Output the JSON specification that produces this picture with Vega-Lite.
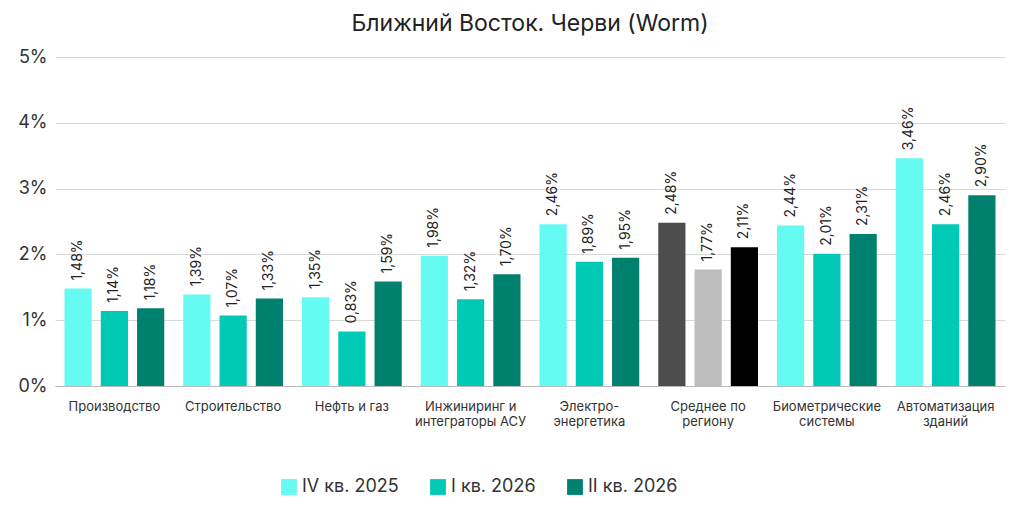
{
  "$schema": "https://vega.github.io/schema/vega-lite/v6.json",
  "width": 950,
  "height": 329,
  "autosize": "none",
  "padding": {"left": 55, "top": 57, "right": 19, "bottom": 126},
  "background": "white",
  "title": {"text": "Ближний Восток. Черви (Worm)", "fontSize": 23, "fontWeight": "normal", "font": "Inter", "color": "#222", "offset": 12},
  "data": {"values": [
    {"cat": "Производство", "s": "IV кв. 2025", "v": 1.48},
    {"cat": "Производство", "s": "I кв. 2026", "v": 1.14},
    {"cat": "Производство", "s": "II кв. 2026", "v": 1.18},
    {"cat": "Строительство", "s": "IV кв. 2025", "v": 1.39},
    {"cat": "Строительство", "s": "I кв. 2026", "v": 1.07},
    {"cat": "Строительство", "s": "II кв. 2026", "v": 1.33},
    {"cat": "Нефть и газ", "s": "IV кв. 2025", "v": 1.35},
    {"cat": "Нефть и газ", "s": "I кв. 2026", "v": 0.83},
    {"cat": "Нефть и газ", "s": "II кв. 2026", "v": 1.59},
    {"cat": "Инжиниринг и интеграторы АСУ", "s": "IV кв. 2025", "v": 1.98},
    {"cat": "Инжиниринг и интеграторы АСУ", "s": "I кв. 2026", "v": 1.32},
    {"cat": "Инжиниринг и интеграторы АСУ", "s": "II кв. 2026", "v": 1.70},
    {"cat": "Электро-энергетика", "s": "IV кв. 2025", "v": 2.46},
    {"cat": "Электро-энергетика", "s": "I кв. 2026", "v": 1.89},
    {"cat": "Электро-энергетика", "s": "II кв. 2026", "v": 1.95},
    {"cat": "Среднее по региону", "s": "IV кв. 2025", "v": 2.48},
    {"cat": "Среднее по региону", "s": "I кв. 2026", "v": 1.77},
    {"cat": "Среднее по региону", "s": "II кв. 2026", "v": 2.11},
    {"cat": "Биометрические системы", "s": "IV кв. 2025", "v": 2.44},
    {"cat": "Биометрические системы", "s": "I кв. 2026", "v": 2.01},
    {"cat": "Биометрические системы", "s": "II кв. 2026", "v": 2.31},
    {"cat": "Автоматизация зданий", "s": "IV кв. 2025", "v": 3.46},
    {"cat": "Автоматизация зданий", "s": "I кв. 2026", "v": 2.46},
    {"cat": "Автоматизация зданий", "s": "II кв. 2026", "v": 2.90}
  ]},
  "transform": [
    {"calculate": "datum.cat == 'Среднее по региону' ? 'ср. ' + datum.s : datum.s", "as": "key"},
    {"calculate": "replace(format(datum.v, '.2f'), '.', ',') + '%'", "as": "lbl"}
  ],
  "encoding": {
    "x": {"field": "cat", "type": "nominal", "sort": null, "title": null,
      "scale": {"paddingInner": 0.16, "paddingOuter": 0.08},
      "axis": {"labelAngle": 0, "labelFont": "Inter", "labelFontSize": 13, "labelColor": "#333", "domainColor": "#bbb", "ticks": false, "labelPadding": 14, "labelLimit": 200,
        "labelExpr": "datum.value == 'Инжиниринг и интеграторы АСУ' ? ['Инжиниринг и', 'интеграторы АСУ'] : datum.value == 'Электро-энергетика' ? ['Электро-', 'энергетика'] : datum.value == 'Среднее по региону' ? ['Среднее по', 'региону'] : datum.value == 'Биометрические системы' ? ['Биометрические', 'системы'] : datum.value == 'Автоматизация зданий' ? ['Автоматизация', 'зданий'] : datum.value"}},
    "xOffset": {"field": "s", "type": "nominal", "sort": ["IV кв. 2025", "I кв. 2026", "II кв. 2026"], "scale": {"paddingInner": 0.25}},
    "y": {"field": "v", "type": "quantitative", "title": null,
      "scale": {"domain": [0, 5]},
      "axis": {"values": [0, 1, 2, 3, 4, 5], "labelExpr": "datum.value + '%'", "labelFont": "Inter", "labelFontSize": 18, "labelColor": "#333", "domain": false, "ticks": false, "gridColor": "#d9d9d9", "labelPadding": 8}}
  },
  "layer": [
    {
      "mark": {"type": "bar"},
      "encoding": {
        "color": {"field": "key", "type": "nominal",
          "scale": {"domain": ["IV кв. 2025", "I кв. 2026", "II кв. 2026", "ср. IV кв. 2025", "ср. I кв. 2026", "ср. II кв. 2026"],
            "range": ["#66fbf2", "#00c9b6", "#00806f", "#4d4d4d", "#bdbdbd", "#000000"]},
          "legend": {"values": ["IV кв. 2025", "I кв. 2026", "II кв. 2026"], "title": null, "orient": "none", "direction": "horizontal", "legendX": 225, "legendY": 421,
            "symbolType": "square", "symbolSize": 250, "labelFont": "Inter", "labelFontSize": 18, "labelColor": "#333", "columnPadding": 30}}
      }
    },
    {
      "mark": {"type": "text", "angle": 270, "align": "left", "baseline": "middle", "dx": 8, "font": "Inter", "fontSize": 14, "color": "#222"},
      "encoding": {"text": {"field": "lbl"}}
    }
  ],
  "config": {"view": {"stroke": null}}
}
